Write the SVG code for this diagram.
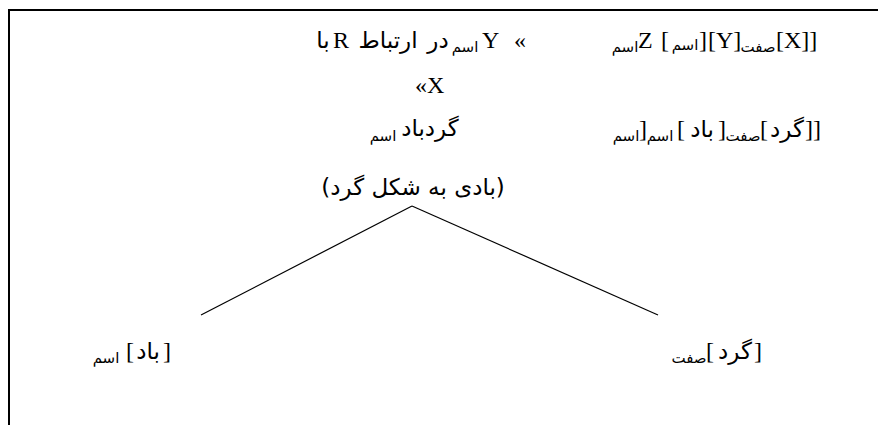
<svg xmlns="http://www.w3.org/2000/svg" width="878" height="425" viewBox="0 0 878 425">
<style>
.lat{font-family:"Liberation Serif","Times New Roman",serif;font-size:24px;fill:#000}
.ar{font-family:"DejaVu Sans","Noto Sans",sans-serif;font-size:23px;fill:#000;text-anchor:middle}
.sub{font-family:"DejaVu Sans","Noto Sans",sans-serif;font-size:15px;fill:#000;text-anchor:middle}
.frame{stroke:#000;stroke-width:2;fill:none}
.edge{stroke:#000;stroke-width:1.2;fill:none}
</style>
<g id="frame">
<path class="frame" d="M9,425 V10 H878"/>
</g>
<g id="connectors">
<path class="edge" d="M201,315 L412,206"/>
<path class="edge" d="M412,206 L658,315"/>
</g>
<g id="schema-gloss">
<text class="ar" x="323" y="48">با</text>
<text class="lat" x="333" y="48">R</text>
<text class="ar" x="388" y="48">ارتباط</text>
<text class="ar" x="438" y="48">در</text>
<text class="sub" x="465" y="52">اسم</text>
<text class="lat" x="482" y="48">Y</text>
<text class="lat" x="514" y="48">«</text>
<text class="lat" x="415" y="93">«X</text>
</g>
<g id="schema">
<text class="sub" x="625" y="52">اسم</text>
<text class="lat" x="638" y="48">Z</text>
<text class="lat" x="661" y="48">[</text>
<text class="sub" x="685" y="50">اسم</text>
<text class="lat" x="699" y="48">]</text>
<text class="lat" x="708" y="48">[Y]</text>
<text class="sub" x="758" y="52">صفت</text>
<text class="lat" x="776" y="48">[X]]</text>
</g>
<g id="word">
<text class="sub" x="383" y="141">اسم</text>
<text class="ar" x="430" y="136">گردباد</text>
<text class="ar" x="413" y="195">(بادی به شکل گرد)</text>
</g>
<g id="word-structure">
<text class="sub" x="626" y="141">اسم</text>
<text class="lat" x="639" y="137">]</text>
<text class="sub" x="660" y="141">اسم</text>
<text class="lat" x="677" y="137">[</text>
<text class="ar" x="702" y="137">باد</text>
<text class="lat" x="718" y="137">]</text>
<text class="sub" x="743" y="141">صفت</text>
<text class="lat" x="760" y="137">[</text>
<text class="ar" x="787" y="137">گرد</text>
<text class="lat" x="805" y="137">]]</text>
</g>
<g id="node-bad">
<text class="sub" x="106" y="363">اسم</text>
<text class="lat" x="126" y="359">[</text>
<text class="ar" x="148" y="359">باد</text>
<text class="lat" x="163" y="359">]</text>
</g>
<g id="node-gerd">
<text class="sub" x="689" y="363">صفت</text>
<text class="lat" x="706" y="359">[</text>
<text class="ar" x="735" y="359">گرد</text>
<text class="lat" x="754" y="359">]</text>
</g>
</svg>
